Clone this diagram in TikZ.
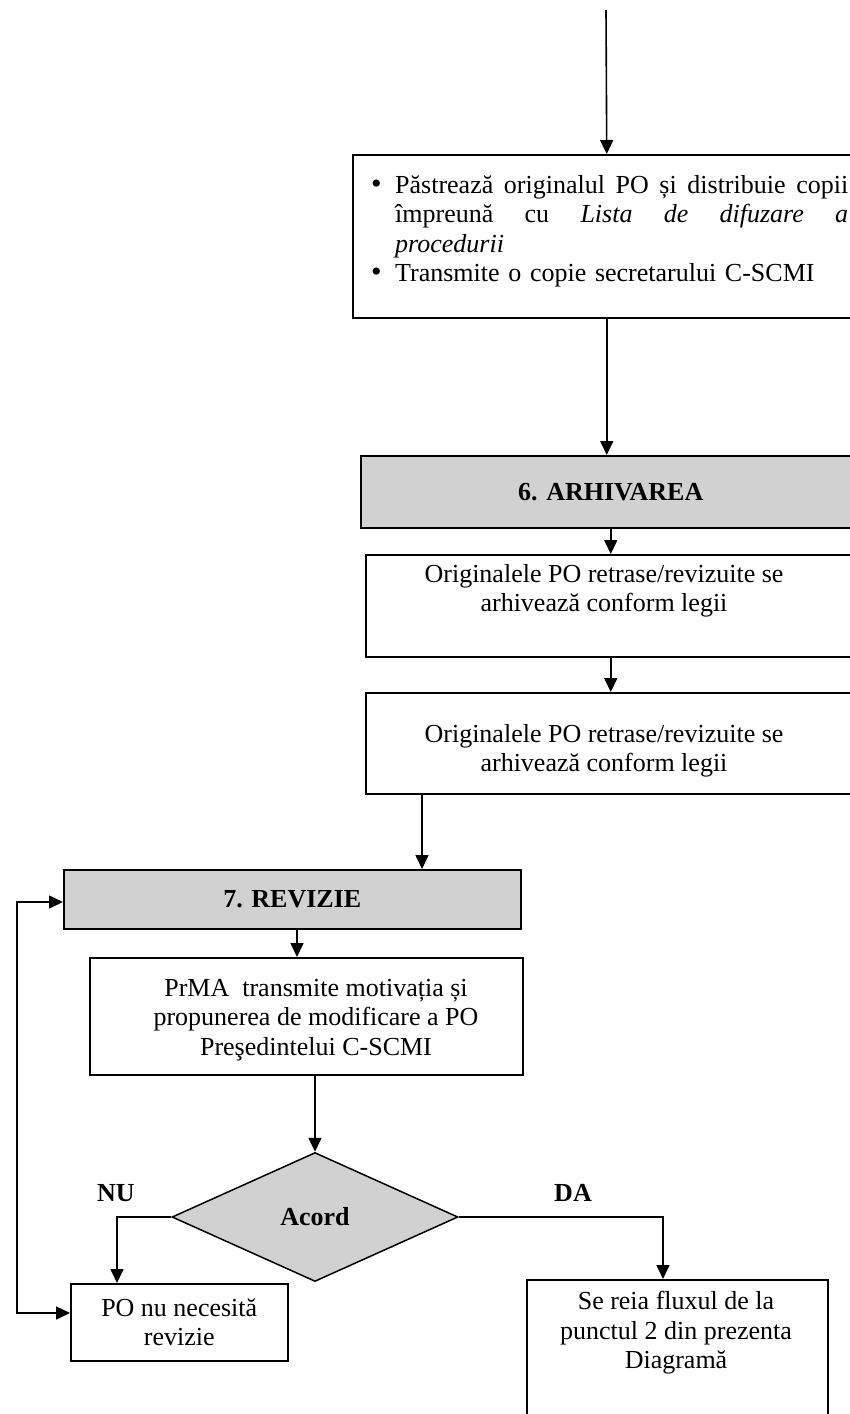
\documentclass[tikz,border=0pt]{standalone}
\usepackage{fontspec}
\setmainfont{Liberation Serif}
\usetikzlibrary{arrows.meta,shapes.geometric}
\newcommand{\sz}{\fontsize{26}{29.5}\selectfont}
\newcommand{\bul}{\makebox[24pt][l]{\fontsize{30}{29.5}\selectfont\textbullet}}
\tikzset{
  box/.style={draw, line width=1.5pt, anchor=north west, inner sep=0pt},
  gbox/.style={box, fill=black!18},
  txt/.style={align=center, inner sep=0pt, font=\sz},
  btxt/.style={inner sep=0pt, font=\sz\bfseries},
  arr/.style={line width=1.6pt, -{Triangle[length=14pt,width=13pt]}},
  dblarr/.style={line width=1.6pt, {Triangle[length=14pt,width=13pt]}-{Triangle[length=14pt,width=13pt]}},
}
\begin{document}
\begin{tikzpicture}[x=1pt,y=-1pt]
\useasboundingbox (0,0) rectangle (850,1414);
\clip (0,0) rectangle (850,1414);

% boxes
\node[box, minimum width=508pt, minimum height=163pt] (b1) at (352,154) {};
\node[gbox, minimum width=500pt, minimum height=72pt, font=\sz\bfseries] (b2) at (360,455) {6. ARHIVAREA};
\node[box, minimum width=495pt, minimum height=102pt] (b3) at (365,554) {};
\node[box, minimum width=495pt, minimum height=101pt] (b4) at (365,692) {};
\node[gbox, minimum width=457pt, minimum height=59pt, font=\sz\bfseries] (rev) at (63,869) {7. REVIZIE};
\node[box, minimum width=433pt, minimum height=117pt] (prma) at (89,957) {};
\node[diamond, draw, line width=1.5pt, fill=black!18, minimum width=286pt, minimum height=129pt, inner sep=0pt, font=\sz\bfseries] (acord) at (315,1217) {Acord};
\node[box, minimum width=217pt, minimum height=77pt, align=center, font=\sz] (nubox) at (70,1283) {PO nu necesită\\revizie};
\node[box, minimum width=301pt, minimum height=170pt] (dabox) at (526,1279) {};

% texts
\node[anchor=north west, inner sep=0pt, text width=495pt, font=\sz] (t1) at (371,172.5) {%
\noindent\bul\hbox to 453pt{\strut Păstrează\hfill originalul\hfill PO\hfill și\hfill distribuie\hfill copii}\par
\noindent\hspace*{24pt}\hbox to 453pt{împreună\hfill cu\hfill \textit{Lista}\hfill \textit{de}\hfill \textit{difuzare}\hfill \textit{a}}\par
\noindent\hspace*{24pt}\textit{procedurii}\par
\noindent\bul Transmite o copie secretarului C-SCMI\par};
\node[txt] (t3) at (604,591) {Originalele PO retrase/revizuite se\\arhivează conform legii};
\node[txt] (t4) at (604,751) {Originalele PO retrase/revizuite se\\arhivează conform legii};
\node[txt] (tp) at (316,1020) {PrMA\ \ transmite motivația și\\propunerea de modificare a PO\\Preşedintelui C-SCMI};
\node[txt] (td) at (676,1333) {Se reia fluxul de la\\punctul 2 din prezenta\\Diagramă};
\node[btxt] (nu) at (116,1193) {NU};
\node[btxt] (da) at (573,1193) {DA};

% connectors
\coordinate (start) at (606,10);
\coordinate (c4) at (422,0);
\coordinate (c5) at (297,0);
\coordinate (c6) at (117,0);
\coordinate (c7) at (663,0);
\coordinate (lt) at (17,902);
\coordinate (lp) at (17,1313);
\draw[arr] (start) -- (b1.north);
\draw[arr] (b1.south) -- (b1.south |- b2.north);
\draw[arr] (b2.south) -- (b2.south |- b3.north);
\draw[arr] (b2.south |- b3.south) -- (b2.south |- b4.north);
\draw[arr] (b4.south -| c4) -- (rev.north -| c4);
\draw[arr] (rev.south -| c5) -- (prma.north -| c5);
\draw[arr] (prma.south -| acord.north) -- (acord.north);
\draw[arr] (acord.west) -| (nubox.north -| c6);
\draw[arr] (acord.east) -| (dabox.north -| c7);
\draw[dblarr] (rev.west |- lt) -- (lt) -- (lp) -- (nubox.west |- lp);
\end{tikzpicture}
\end{document}
